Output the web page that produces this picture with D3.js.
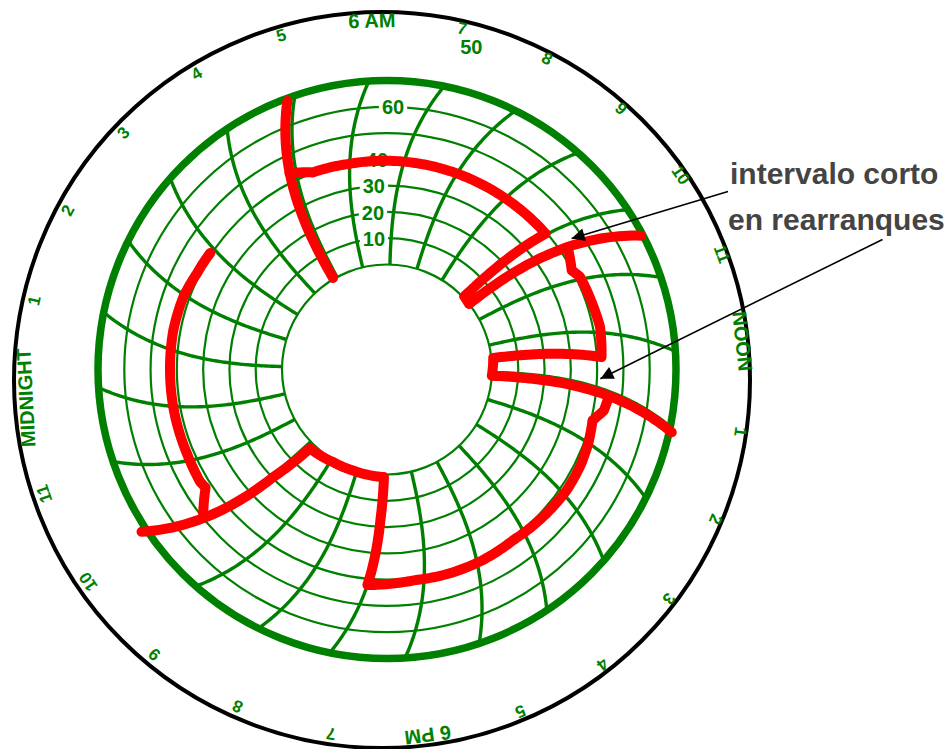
<!DOCTYPE html>
<html>
<head>
<meta charset="utf-8">
<script src="https://cdn.jsdelivr.net/npm/d3@7"></script>
<style>
  body { margin: 0; background: #fff; }
  svg { display: block; }
  text { font-family: "Liberation Sans", Arial, Helvetica, sans-serif; font-weight: bold; }
</style>
</head>
<body>
<svg id="chart" width="947" height="749"></svg>
<script>
// ---- chart data -------------------------------------------------------
// 24-hour clock: hour index 0 = midnight, 6 = 6 AM at the top
const hours = d3.range(24);
const hourLabels = ["MIDNIGHT", "1", "2", "3", "4", "5", "6 AM", "7", "8", "9", "10", "11",
                    "NOON", "1", "2", "3", "4", "5", "6 PM", "7", "8", "9", "10", "11"];
const ringValues = [0, 10, 20, 30, 40, 50, 60];
const scaleMax = 70;
const valueLabels = [10, 20, 30, 40, 60];
const strayValueLabel = "50";

// pen trace, as [hour of day, value]; hours past 24 run into the next morning
const restartA = [[4.86, 0.5], [4.9, 69]];
const runA = [[4.88, 43.5], [5.3, 40.2], [6, 39.6], [7, 39.4], [8, 39.2], [9, 39.2],
              [9.98, 39.5], [10.0, 0.5], [10.32, 0], [10.4, 69.3]];
const runB = [[10.38, 43], [10.8, 39.8], [10.95, 41.5], [11.5, 42.1], [11.9, 42.7],
              [12.44, 41.8], [12.48, 0.7], [13.12, 0], [13.1, 20], [13.05, 71]];
const runC = [[13.1, 45], [13.35, 44], [13.6, 40.6], [14.0, 41.6], [14.4, 42.2], [14.9, 42.4],
              [15.55, 41.7], [16.24, 40.8], [16.9, 41.2], [17.5, 41.2], [18.15, 40.9],
              [18.45, 41.3], [19.0, 42.4], [19.02, 17], [19.0, 1], [20.1, 0.6], [20.9, 0.8],
              [21.85, 2], [21.95, 20], [21.97, 72]];
const runD = [[21.99, 49.6], [22.45, 42.4], [22.58, 43], [23.14, 42.6], [23.83, 42.6],
              [24.6, 42.6], [25.35, 42.7], [25.97, 42.3], [26.45, 41.1], [26.9, 40.6]];
const traces = [restartA, runA, runB, runC, runD];

// annotation arrows point at the short gaps between restarts
const noteLines = ["intervalo corto", "en rearranques"];
const noteTargets = [[10.25, 46.2], [12.83, 41.3]];

// ---- geometry --------------------------------------------------------
const svg = d3.select("#chart");
const GREEN = "#008000";
const grid = { x: 387, y: 369.5 };          // centre of the recording area
const rim = { x: 382, y: 380, r: 368 };     // outer paper edge
const rad = Math.PI / 180;

const rScale = d3.scaleLinear().domain([0, scaleMax]).range([105, 289]);
// angle (deg, clockwise from top) of an hour line where it meets the hub
const tScale = d3.scaleLinear().domain([0, 24]).range([-103.4, 256.6]);
// pen-arm arc: hour lines curve clockwise as they move outward
const sweep = rr => 2.9e-4 * Math.pow(rr - rScale(0), 2);

function project([t, v]) {
  const rr = rScale(v);
  const a = (tScale(t) + sweep(rr)) * rad;
  return [grid.x + rr * Math.sin(a), grid.y - rr * Math.cos(a)];
}

// fill in intermediate points so segments follow the polar grid
function densify(pts) {
  const out = [];
  for (let i = 0; i < pts.length - 1; i++) {
    const [t0, v0] = pts[i], [t1, v1] = pts[i + 1];
    const n = Math.max(1, Math.ceil(Math.max(Math.abs(t1 - t0) * 24, Math.abs(v1 - v0) / 1.5)));
    for (let j = 0; j < n; j++) {
      const f = j / n;
      out.push([t0 + (t1 - t0) * f, v0 + (v1 - v0) * f]);
    }
  }
  out.push(pts[pts.length - 1]);
  return out;
}

const line = d3.line().x(d => project(d)[0]).y(d => project(d)[1]);

// ---- grid --------------------------------------------------------------
const gGrid = svg.append("g").attr("fill", "none").attr("stroke", GREEN);

gGrid.selectAll("circle.ring").data(ringValues).join("circle")
  .attr("class", "ring")
  .attr("cx", grid.x).attr("cy", grid.y)
  .attr("r", d => rScale(d))
  .attr("stroke-width", 2.2);

gGrid.selectAll("path.hour").data(hours).join("path")
  .attr("class", "hour")
  .attr("d", h => line(d3.range(0, scaleMax + 0.01, 1).map(v => [h, v])))
  .attr("stroke-width", 3.4);

gGrid.append("circle")
  .attr("cx", grid.x).attr("cy", grid.y)
  .attr("r", rScale(scaleMax))
  .attr("stroke-width", 7.5);

// value scale, written along the 6:30 arc
const gVal = svg.append("g");
valueLabels.forEach(v => {
  const [x, y] = project([6.5, v]);
  const g = gVal.append("g").attr("transform", `translate(${x},${y})`);
  const rect = g.append("rect").attr("fill", "#fff");
  const txt = g.append("text")
    .attr("text-anchor", "middle").attr("dominant-baseline", "central")
    .attr("font-size", 20).attr("fill", GREEN).text(v);
  const b = txt.node().getBBox();
  rect.attr("x", b.x - 3).attr("y", b.y + 2).attr("width", b.width + 6).attr("height", b.height - 4);
});

// ---- pen trace ----------------------------------------------------------
svg.append("g")
  .selectAll("path").data(traces).join("path")
  .attr("d", d => line(densify(d)))
  .attr("fill", "none")
  .attr("stroke", "#ff0000")
  .attr("stroke-width", 10)
  .attr("stroke-linecap", "round")
  .attr("stroke-linejoin", "round");

// ---- paper rim and hour labels ----------------------------------------
svg.append("circle")
  .attr("cx", rim.x).attr("cy", rim.y).attr("r", rim.r)
  .attr("fill", "none").attr("stroke", "#000").attr("stroke-width", 4);

const labelAngle = th => th - 4.48 + 2.86 * Math.cos(th * rad) - 1.64 * Math.sin(th * rad);
const labelRadius = th => 359.5 + 3 * Math.sin(th * rad) - 1.5 * Math.max(0, -Math.cos(th * rad));

svg.append("g").selectAll("text").data(hours).join("text")
  .each(function (h) {
    const th = ((h - 6) * 15 + 360) % 360;
    const a = labelAngle(th);
    const rr = labelRadius(th);
    const x = rim.x + rr * Math.sin(a * rad), y = rim.y - rr * Math.cos(a * rad);
    d3.select(this)
      .attr("transform", `translate(${x},${y}) rotate(${a})`)
      .attr("font-size", hourLabels[h].length > 2 ? 20 : 17);
  })
  .attr("text-anchor", "middle")
  .attr("dominant-baseline", "central")
  .attr("fill", GREEN)
  .text(h => hourLabels[h]);

// the loose "50" printed beside the 7 o'clock mark
{
  const a = 15 * rad, rr = 345;
  svg.append("text")
    .attr("x", rim.x + rr * Math.sin(a)).attr("y", rim.y - rr * Math.cos(a))
    .attr("text-anchor", "middle").attr("dominant-baseline", "central")
    .attr("font-size", 20).attr("fill", GREEN).text(strayValueLabel);
}

// ---- annotation ------------------------------------------------------
const defs = svg.append("defs");
defs.append("marker")
  .attr("id", "tip").attr("viewBox", "0 0 10 10")
  .attr("refX", 10).attr("refY", 5)
  .attr("markerWidth", 17).attr("markerHeight", 13)
  .attr("markerUnits", "userSpaceOnUse")
  .attr("orient", "auto")
  .append("path").attr("d", "M0,0L10,5L0,10Z").attr("fill", "#000");

const noteStarts = [[728, 191.5], [882.5, 239.5]];
noteTargets.forEach((d, i) => {
  const [x2, y2] = project(d);
  svg.append("line")
    .attr("x1", noteStarts[i][0]).attr("y1", noteStarts[i][1])
    .attr("x2", x2).attr("y2", y2)
    .attr("stroke", "#000").attr("stroke-width", 1.6)
    .attr("marker-end", "url(#tip)");
});

svg.append("g").selectAll("text").data(noteLines).join("text")
  .attr("x", (d, i) => i ? 728 : 730)
  .attr("y", (d, i) => i ? 230 : 184)
  .attr("font-size", 30)
  .attr("fill", "#444")
  .text(d => d);
</script>
</body>
</html>
